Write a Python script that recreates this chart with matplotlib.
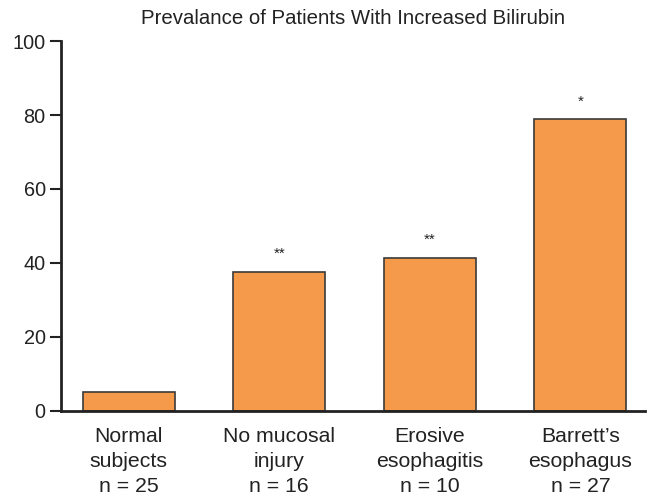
import numpy as np
import matplotlib.pyplot as plt

plt.rcParams['font.family'] = ['Liberation Sans', 'DejaVu Sans']

# data
groups = ["Normal\nsubjects\nn = 25", "No mucosal\ninjury\nn = 16",
          "Erosive\nesophagitis\nn = 10", "Barrett\u2019s\nesophagus\nn = 27"]
prevalence = [5, 37.5, 41.3, 78.8]
stars = ["", "**", "**", "*"]

fig = plt.figure(figsize=(6.55, 5.01), dpi=100)
ax = fig.add_axes([0.093, 0.180, 0.892, 0.738])

x = np.arange(len(groups))
ax.bar(x, prevalence, width=0.61, color="#F59A4A", edgecolor="#3a3a3a", linewidth=1.2)

for xi, v, s in zip(x, prevalence, stars):
    if s:
        ax.text(xi, v + 3, s, ha="center", va="bottom", fontsize=11, color="#222222")

ax.set_xlim(-0.45, 3.43)
ax.set_ylim(0, 100)
ax.set_yticks([0, 20, 40, 60, 80, 100])
ax.set_xticks(x)
ax.set_xticklabels(groups, fontsize=15.3, color="#222222", linespacing=1.38)
ax.tick_params(axis="x", length=0, pad=12)
ax.tick_params(axis="y", length=8, width=1.5, labelsize=14.3, labelcolor="#222222",
               color="#222222", pad=3)

for side in ["top", "right"]:
    ax.spines[side].set_visible(False)
for side in ["left", "bottom"]:
    ax.spines[side].set_linewidth(2)
    ax.spines[side].set_color("#222222")

ax.set_title("Prevalance of Patients With Increased Bilirubin", fontsize=14.7,
             color="#222222", pad=12)

plt.savefig("out.png", dpi=100)
